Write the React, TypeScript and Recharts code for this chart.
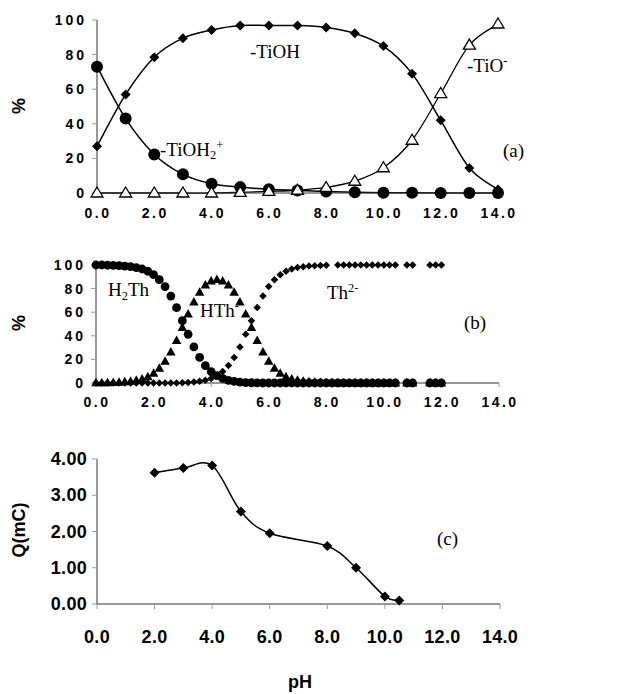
import React from 'react';
import { LineChart, Line, XAxis, YAxis } from 'recharts';

// ---------- Panel (a): TiO2 surface speciation ----------
const phA = [0, 1, 2, 3, 4, 5, 6, 7, 8, 9, 10, 11, 12, 13, 14];
const tiohA = [27, 57, 78.5, 89.5, 94.2, 96.8, 96.8, 96.8, 95.7, 92.3, 84.9, 69, 42, 14.5, 2];
const tioh2A = [73, 43, 22.3, 10.8, 5.4, 3.4, 2.2, 1.5, 0.8, 0.5, 0.2, 0.1, 0.05, 0.02, 0];
const tioA = [0, 0, 0, 0, 0, 0.4, 0.9, 1.6, 3.2, 6.8, 14.6, 30.5, 57.5, 85.5, 97.7];

// ---------- Panel (b): thiophene acid speciation ----------
const phB = [0, 0.2, 0.4, 0.6, 0.8, 1, 1.2, 1.4, 1.6, 1.8, 2, 2.2, 2.4, 2.6, 2.8, 3, 3.2, 3.4, 3.6, 3.8,
  4, 4.2, 4.4, 4.6, 4.8, 5, 5.2, 5.4, 5.6, 5.8, 6, 6.2, 6.4, 6.6, 6.8, 7, 7.2, 7.4, 7.6, 7.8,
  8, 8.2, 8.4, 8.6, 8.8, 9, 9.2, 9.4, 9.6, 9.8, 10, 10.2, 10.4, 10.8, 11, 11.6, 11.8, 12];
const h2thB = [100, 100, 99.8, 99.6, 99.4, 99.1, 98.6, 97.8, 96.6, 94.7, 91.8, 87.6, 81.7, 73.7, 63.8, 52.8, 41.3, 30.6, 21.7, 14.7,
  9.7, 6.2, 3.9, 2.3, 1.4, 0.8, 0.4, 0.2, 0.1, 0, 0, 0, 0, 0, 0, 0, 0, 0, 0, 0,
  0, 0, 0, 0, 0, 0, 0, 0, 0, 0, 0, 0, 0, 0, 0, 0, 0, 0];
const hthB = [0.1, 0.1, 0.2, 0.4, 0.6, 0.9, 1.4, 2.2, 3.4, 5.3, 8.2, 12.4, 18.3, 26.2, 36.0, 47.0, 58.3, 68.6, 76.9, 82.9,
  86.4, 87.6, 86.4, 82.9, 76.9, 68.6, 58.3, 47.0, 36.0, 26.2, 18.3, 12.4, 8.2, 5.3, 3.4, 2.2, 1.4, 0.9, 0.6, 0.4,
  0.2, 0.1, 0, 0, 0, 0, 0, 0, 0, 0, 0, 0, 0, 0, 0, 0, 0, 0];
const th2B = [0, 0, 0, 0, 0, 0, 0, 0, 0, 0, 0, 0, 0, 0.1, 0.1, 0.2, 0.4, 0.8, 1.4, 2.4,
  3.9, 6.2, 9.7, 14.8, 21.7, 30.6, 41.3, 52.8, 63.9, 73.8, 81.7, 87.6, 91.8, 94.7, 96.6, 97.8, 98.6, 99.1, 99.4, 99.6,
  99.8, null, 99.9, 99.9, 99.9, 100, 100, 100, 100, 100, 100, 100, 100, 100, 100, 100, 100, 100];

// ---------- Panel (c): charge vs pH ----------
const phC = [2, 3, 4, 5, 6, 8, 9, 10, 10.5];
const qC = [3.62, 3.75, 3.82, 2.55, 1.95, 1.6, 1.0, 0.21, 0.1];

// ---------- Tick labels ----------
const xTicks = [0, 2, 4, 6, 8, 10, 12, 14];
const pctTicks = [0, 20, 40, 60, 80, 100];
const qTicks = [0, 1, 2, 3, 4];

const dataA = phA.map((ph, i) => ({ ph, tioh: tiohA[i], tioh2: tioh2A[i], tio: tioA[i] }));
const dataB = phB.map((ph, i) => ({ ph, h2th: h2thB[i], hth: hthB[i], th2: th2B[i] }));
const dataC = phC.map((ph, i) => ({ ph, q: qC[i] }));

// Catmull-Rom style smoothing (like spreadsheet "smoothed line")
const smooth = (context: any) => {
  let xs: number[] = [];
  let ys: number[] = [];
  return {
    areaStart() {},
    areaEnd() {},
    lineStart() { xs = []; ys = []; },
    point(x: number, y: number) { xs.push(+x); ys.push(+y); },
    lineEnd() {
      const n = xs.length;
      if (!n) return;
      context.moveTo(xs[0], ys[0]);
      for (let i = 0; i < n - 1; i++) {
        const i0 = Math.max(i - 1, 0);
        const i3 = Math.min(i + 2, n - 1);
        const c1x = xs[i] + (xs[i + 1] - xs[i0]) / 6;
        const c1y = ys[i] + (ys[i + 1] - ys[i0]) / 6;
        const c2x = xs[i + 1] - (xs[i3] - xs[i]) / 6;
        const c2y = ys[i + 1] - (ys[i3] - ys[i]) / 6;
        context.bezierCurveTo(c1x, c1y, c2x, c2y, xs[i + 1], ys[i + 1]);
      }
    },
  };
};

const ok = (p: any) => p.cx != null && p.cy != null && p.value != null && !Number.isNaN(p.cy);

const diamondDot = (size: number) => (p: any) => {
  if (!ok(p)) return <g key={p.index} />;
  const s = size / 2;
  const { cx, cy } = p;
  return <path key={p.index} d={`M${cx},${cy - s}L${cx + s},${cy}L${cx},${cy + s}L${cx - s},${cy}Z`} fill="#000" />;
};
const circleDot = (r: number) => (p: any) => {
  if (!ok(p)) return <g key={p.index} />;
  return <circle key={p.index} cx={p.cx} cy={p.cy} r={r} fill="#000" />;
};
const triDot = (w: number, h: number, open: boolean) => (p: any) => {
  if (!ok(p)) return <g key={p.index} />;
  const { cx, cy } = p;
  return (
    <path
      key={p.index}
      d={`M${cx},${cy - h * 0.6}L${cx + w / 2},${cy + h * 0.4}L${cx - w / 2},${cy + h * 0.4}Z`}
      fill={open ? '#fff' : '#000'}
      stroke="#000"
      strokeWidth={open ? 1.3 : 0}
    />
  );
};

const SANS = '"Liberation Sans", Arial, sans-serif';
const SERIF = '"Liberation Serif", "Times New Roman", serif';

const makeTick = (axis: 'x' | 'y', fmt: (v: number) => string, size: number, spacing: number, dx: number, dy: number) =>
  (p: any) => {
    const { x, y, payload } = p;
    return (
      <text
        x={x + dx}
        y={y + dy}
        textAnchor={axis === 'x' ? 'middle' : 'end'}
        fontFamily={SANS}
        fontWeight="bold"
        fontSize={size}
        letterSpacing={spacing}
        fill="#000"
      >
        {fmt(payload.value)}
      </text>
    );
  };

const f1 = (v: number) => v.toFixed(1);
const f0 = (v: number) => String(v);
const f2 = (v: number) => v.toFixed(2);

const axisLine = { stroke: '#333', strokeWidth: 1 };
const tickLine = { stroke: '#999', strokeWidth: 1 };

const Txt = ({ left, top, size = 19, font = SERIF, bold = false, children }: any) => (
  <div
    style={{
      position: 'absolute',
      left,
      top,
      fontFamily: font,
      fontSize: size,
      fontWeight: bold ? 'bold' : 'normal',
      lineHeight: 1,
      whiteSpace: 'nowrap',
      color: '#000',
    }}
  >
    {children}
  </div>
);
const Sub = ({ children }: any) => <span style={{ fontSize: '0.65em', verticalAlign: '-0.3em' }}>{children}</span>;
const Sup = ({ children }: any) => <span style={{ fontSize: '0.65em', verticalAlign: '0.55em' }}>{children}</span>;

const RotLabel = ({ cx, cy, size, children }: any) => (
  <div
    style={{
      position: 'absolute',
      left: cx,
      top: cy,
      transform: 'translate(-50%, -50%) rotate(-90deg)',
      fontFamily: SANS,
      fontWeight: 'bold',
      fontSize: size,
      lineHeight: 1,
      whiteSpace: 'nowrap',
    }}
  >
    {children}
  </div>
);

export default function App() {
  return (
    <div style={{ position: 'absolute', left: 0, top: 0, width: 634, height: 694, background: '#fff', overflow: 'hidden' }}>
      {/* Panel (a) */}
      <div style={{ position: 'absolute', left: 0, top: 0 }}>
        <LineChart width={634} height={240} data={dataA} margin={{ top: 20, right: 136, bottom: 17, left: 0 }}>
          <XAxis
            dataKey="ph"
            type="number"
            domain={[0, 14]}
            ticks={xTicks}
            interval={0}
            height={30}
            axisLine={axisLine}
            tickLine={tickLine}
            tickSize={4}
            tick={makeTick('x', f1, 14, 2.5, 1, 19)}
          />
          <YAxis
            type="number"
            domain={[0, 100]}
            ticks={pctTicks}
            interval={0}
            width={97}
            axisLine={axisLine}
            tickLine={tickLine}
            tickSize={5}
            tick={makeTick('y', f0, 14, 3, -3, 5)}
          />
          <Line dataKey="tioh" type={smooth as any} stroke="#000" strokeWidth={1.5} dot={diamondDot(10)} activeDot={false} isAnimationActive={false} />
          <Line dataKey="tioh2" type={smooth as any} stroke="#000" strokeWidth={1.5} dot={circleDot(6)} activeDot={false} isAnimationActive={false} />
          <Line dataKey="tio" type={smooth as any} stroke="#000" strokeWidth={1.3} dot={triDot(12, 10, true)} activeDot={false} isAnimationActive={false} />
        </LineChart>
      </div>

      {/* Panel (b) */}
      <div style={{ position: 'absolute', left: 0, top: 240 }}>
        <LineChart width={634} height={190} data={dataB} margin={{ top: 25, right: 135, bottom: 17, left: 0 }}>
          <XAxis
            dataKey="ph"
            type="number"
            domain={[0, 14]}
            ticks={xTicks}
            interval={0}
            height={30}
            axisLine={axisLine}
            tickLine={tickLine}
            tickSize={4}
            tick={makeTick('x', f1, 14, 2.5, 1, 18)}
          />
          <YAxis
            type="number"
            domain={[0, 100]}
            ticks={pctTicks}
            interval={0}
            width={96}
            axisLine={axisLine}
            tickLine={tickLine}
            tickSize={5}
            tick={makeTick('y', f0, 14, 3, -3, 5)}
          />
          <Line dataKey="h2th" stroke="none" dot={circleDot(4.4)} activeDot={false} isAnimationActive={false} />
          <Line dataKey="hth" stroke="none" dot={triDot(9.5, 8.5, false)} activeDot={false} isAnimationActive={false} />
          <Line dataKey="th2" stroke="none" dot={diamondDot(7.5)} activeDot={false} isAnimationActive={false} />
        </LineChart>
      </div>

      {/* Panel (c) */}
      <div style={{ position: 'absolute', left: 0, top: 430 }}>
        <LineChart width={634} height={264} data={dataC} margin={{ top: 29, right: 134, bottom: 60, left: 0 }}>
          <XAxis
            dataKey="ph"
            type="number"
            domain={[0, 14]}
            ticks={xTicks}
            interval={0}
            height={30}
            axisLine={axisLine}
            tickLine={tickLine}
            tickSize={5}
            tick={makeTick('x', f1, 18, 0.3, 0, 32)}
          />
          <YAxis
            type="number"
            domain={[0, 4]}
            ticks={qTicks}
            interval={0}
            width={97}
            axisLine={axisLine}
            tickLine={tickLine}
            tickSize={5}
            tick={makeTick('y', f2, 18, 0.3, -3, 6)}
          />
          <Line dataKey="q" type={smooth as any} stroke="#000" strokeWidth={1.5} dot={diamondDot(10)} activeDot={false} isAnimationActive={false} />
        </LineChart>
      </div>

      {/* Axis titles */}
      <RotLabel cx={19} cy={106} size={18}>%</RotLabel>
      <RotLabel cx={19} cy={323} size={18}>%</RotLabel>
      <RotLabel cx={19} cy={530} size={18}>Q(mC)</RotLabel>
      <Txt left={288} top={673} size={18} font={SANS} bold>pH</Txt>

      {/* Annotations panel (a) */}
      <Txt left={250} top={42}>-TiOH</Txt>
      <Txt left={467} top={55}>-TiO<Sup>-</Sup></Txt>
      <Txt left={160} top={139}>-TiOH<Sub>2</Sub><Sup>+</Sup></Txt>
      <Txt left={503} top={141}>(a)</Txt>

      {/* Annotations panel (b) */}
      <Txt left={108} top={280}>H<Sub>2</Sub>Th</Txt>
      <Txt left={200} top={300}>HTh<Sup>-</Sup></Txt>
      <Txt left={327} top={282}>Th<Sup>2-</Sup></Txt>
      <Txt left={464} top={313}>(b)</Txt>

      {/* Annotation panel (c) */}
      <Txt left={437} top={529}>(c)</Txt>
    </div>
  );
}
